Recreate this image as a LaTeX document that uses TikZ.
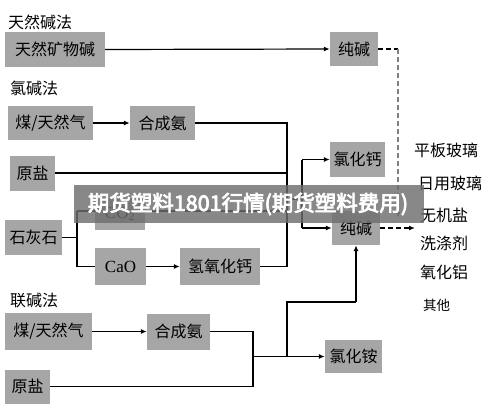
\documentclass[tikz,border=0pt]{standalone}
\usepackage{fontspec}
\newfontfamily\cjk{Noto Sans CJK SC}
\newfontfamily\bannerfont[FakeBold=3.5]{Noto Sans CJK SC}
\newfontfamily\latserif{Liberation Serif}
\usetikzlibrary{arrows.meta}
\definecolor{boxgray}{RGB}{166,166,166}
\definecolor{bannergray}{RGB}{110,110,110}
\tikzset{
  box/.style={fill=boxgray, inner sep=0pt, font=\cjk\fontsize{16}{16}\selectfont, text=black},
  sect/.style={anchor=west, inner sep=0pt, font=\cjk\fontsize{16}{16}\selectfont},
  use/.style={anchor=west, inner sep=0pt, font=\cjk\fontsize{16}{16}\selectfont},
  ln/.style={line width=1.2pt, black},
  arr/.style={line width=1.2pt, black, -{Latex[length=6pt,width=5pt]}},
  dsh/.style={line width=1.2pt, dash pattern=on 5pt off 3pt},
}
\begin{document}
\begin{tikzpicture}[x=1pt,y=-1pt]
\useasboundingbox (0,0) rectangle (500,410);
\fill[white] (0,0) rectangle (500,410);

% section labels
\node[sect] (l1) at (8,22) {天然碱法};
\node[sect] (l2) at (10,88) {氯碱法};
\node[sect] (l3) at (10,300) {联碱法};

% boxes
\node[box, minimum width=100pt, minimum height=35pt] (n1) at (55,49.5) {天然矿物碱};
\node[box, minimum width=48pt, minimum height=34pt] (sc1) at (354,49) {纯碱};
\node[box, minimum width=85pt, minimum height=34pt] (coal1) at (50.5,123) {煤/天然气};
\node[box, minimum width=65pt, minimum height=34pt] (nh3a) at (162.5,123) {合成氨};
\node[box, minimum width=45pt, minimum height=35pt] (salt1) at (32.5,173) {原盐};
\node[box, minimum width=57pt, minimum height=35pt] (lime) at (33.5,237.5) {石灰石};
\node[box, minimum width=50pt, minimum height=32pt, font=\latserif\fontsize{17}{17}\selectfont] (co2) at (120,214) {CO\textsubscript{2}};
\node[box, minimum width=51pt, minimum height=37pt, font=\latserif\fontsize{17}{17}\selectfont] (cao) at (120.5,266.5) {CaO};
\node[box, minimum width=80pt, minimum height=37pt] (caoh) at (220,266.5) {氢氧化钙};
\node[box, minimum width=55pt, minimum height=35pt] (cacl) at (357.5,159.5) {氯化钙};
\node[box, minimum width=48pt, minimum height=34pt] (sc2) at (356,228) {纯碱};
\node[box, minimum width=87pt, minimum height=37pt] (coal2) at (48.5,331.5) {煤/天然气};
\node[box, minimum width=63pt, minimum height=36pt] (nh3b) at (178.5,331.5) {合成氨};
\node[box, minimum width=45pt, minimum height=34pt] (salt2) at (27.5,386.5) {原盐};
\node[box, minimum width=57pt, minimum height=33pt] (nh4cl) at (353.5,356.5) {氯化铵};

% uses
\node[use] (u1) at (414,150) {平板玻璃};
\node[use] (u2) at (418,183) {日用玻璃};
\node[use] (u3) at (420,215) {无机盐};
\node[use] (u4) at (420,243) {洗涤剂};
\node[use] (u5) at (420,272) {氧化铝};
\node[use, font=\cjk\fontsize{13.5}{14}\selectfont] (u6) at (423,305) {其他};

% coordinates
\coordinate (b1) at (287,123);
\coordinate (b2) at (287,266.5);
\coordinate (j1) at (287,199);
\coordinate (j2) at (302,199);
\coordinate (jt) at (302,159.5);
\coordinate (jb) at (302,228);
\coordinate (lj) at (77,237.5);
\coordinate (lt) at (77,211);
\coordinate (lb) at (77,266.5);
\coordinate (c1) at (253,331.5);
\coordinate (c2) at (253,386.5);
\coordinate (c3) at (253,356.5);
\coordinate (c4) at (287,356.5);
\coordinate (c5) at (287,302);
\coordinate (c6) at (356,302);
\coordinate (d1) at (398,49);
\coordinate (d2) at (398,218);
\coordinate (d3) at (415,228);

% natural soda
\draw[arr] (n1.east) -- (sc1.west);
% chlor-alkali / ammonia-soda
\draw[arr] (coal1.east) -- (nh3a.west);
\draw[ln] (nh3a.east) -- (b1) -- (b2) -- (caoh.east);
\draw[ln] (salt1.east) -- (salt1.east -| b1);
\draw[ln] (co2.east |- lt) -- (lt -| b1);
\draw[ln] (lime.east) -- (lj);
\draw[ln] (lt) -- (lb);
\draw[ln] (lt) -- (lt -| co2.west);
\draw[ln] (lb) -- (cao.west);
\draw[arr] (cao.east) -- (caoh.west);
\draw[ln] (j1) -- (j2);
\draw[ln] (jt) -- (jb);
\draw[arr] (jt) -- (cacl.west);
\draw[arr] (jb) -- (sc2.west);
% joint process
\draw[arr] (coal2.east) -- (nh3b.west);
\draw[ln] (nh3b.east) -- (c1) -- (c2) -- (salt2.east);
\draw[arr] (c3) -- (nh4cl.west);
\draw[ln] (c4) -- (c5) -- (c6);
\draw[arr] (c6) -- (sc2.south);
% dashed to uses
\draw[dsh] (sc1.east) -- (d1);
\draw[dsh, gray, -{Latex[length=6pt,width=5pt]}] (d1) -- (d2);
\draw[dsh, -{Latex[length=6pt,width=5pt]}] (sc2.east) -- (d3);

% watermark banner
\fill[bannergray, opacity=0.82] (74,185) rectangle (424,223);
\node[font=\bannerfont\fontsize{21.5}{22}\selectfont, text=white, inner sep=0pt] (bn) at (248,204) {期货塑料1801行情(期货塑料费用)};
\end{tikzpicture}
\end{document}
